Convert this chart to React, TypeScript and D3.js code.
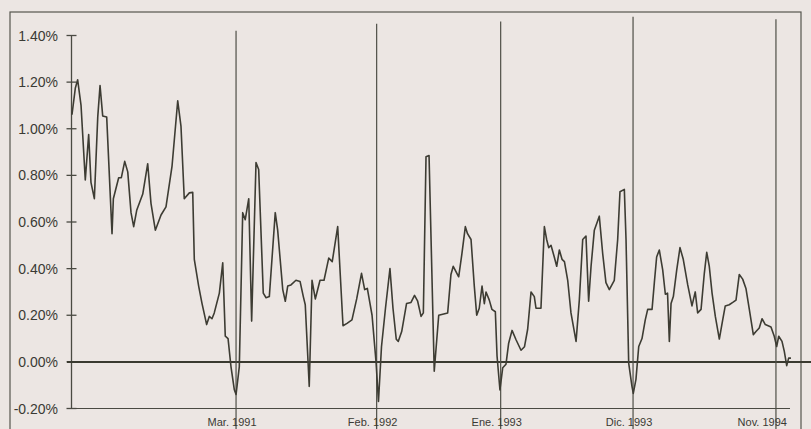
import React from 'react';
import * as d3 from 'd3';

// Weekly rate series: [months since Jan. 1990, rate in %]
const serie: [number, number][] = [
  [0.7, 1.06], [0.98, 1.175], [1.17, 1.21], [1.45, 1.1], [1.8, 0.78], [2.08, 0.975], [2.27, 0.77], [2.55, 0.7],
  [2.83, 1.05], [3.02, 1.185], [3.24, 1.055], [3.57, 1.05], [4.01, 0.55], [4.12, 0.7], [4.56, 0.79], [4.78, 0.79],
  [5.06, 0.86], [5.31, 0.815], [5.58, 0.64], [5.8, 0.58], [6.05, 0.65], [6.55, 0.72], [6.96, 0.85], [7.23, 0.68],
  [7.59, 0.565], [8.06, 0.63], [8.47, 0.665], [8.97, 0.84], [9.44, 1.12], [9.71, 1.01], [9.98, 0.7], [10.4, 0.725],
  [10.68, 0.727], [10.81, 0.44], [11.17, 0.325], [11.45, 0.25], [11.83, 0.16], [12.05, 0.195], [12.27, 0.185], [12.46, 0.21],
  [12.88, 0.295], [13.16, 0.425], [13.37, 0.11], [13.6, 0.1], [13.84, -0.02], [14.12, -0.12], [14.26, -0.14], [14.53, -0.02],
  [14.81, 0.64], [15.02, 0.61], [15.31, 0.7], [15.55, 0.175], [15.69, 0.44], [15.91, 0.855], [16.13, 0.825], [16.51, 0.295],
  [16.74, 0.275], [17.01, 0.28], [17.5, 0.64], [17.7, 0.565], [18.12, 0.31], [18.33, 0.26], [18.53, 0.325], [18.8, 0.33],
  [19.21, 0.35], [19.55, 0.345], [19.82, 0.28], [19.98, 0.245], [20.31, -0.105], [20.54, 0.35], [20.81, 0.27], [21.2, 0.35],
  [21.53, 0.35], [21.92, 0.445], [22.21, 0.43], [22.66, 0.58], [23.1, 0.155], [23.43, 0.165], [23.84, 0.18], [24.23, 0.27],
  [24.63, 0.38], [24.89, 0.31], [25.11, 0.315], [25.5, 0.2], [25.83, 0.0], [26.03, -0.17], [26.28, 0.065], [26.61, 0.23],
  [26.98, 0.4], [27.23, 0.23], [27.5, 0.097], [27.67, 0.088], [27.95, 0.13], [28.35, 0.25], [28.72, 0.255], [29.01, 0.285],
  [29.26, 0.262], [29.55, 0.195], [29.74, 0.21], [29.96, 0.88], [30.21, 0.885], [30.64, -0.04], [31.01, 0.2], [31.75, 0.21],
  [32.02, 0.375], [32.21, 0.41], [32.66, 0.365], [32.93, 0.465], [33.21, 0.58], [33.39, 0.55], [33.68, 0.525], [33.95, 0.325],
  [34.15, 0.2], [34.36, 0.23], [34.59, 0.325], [34.78, 0.25], [34.92, 0.3], [35.19, 0.265], [35.41, 0.225], [35.69, 0.215],
  [35.83, 0.025], [36.07, -0.12], [36.3, -0.025], [36.57, -0.01], [36.79, 0.08], [37.07, 0.135], [37.4, 0.095], [37.81, 0.05],
  [38.1, 0.065], [38.36, 0.14], [38.64, 0.3], [38.91, 0.28], [39.05, 0.23], [39.46, 0.23], [39.74, 0.58], [39.93, 0.525],
  [40.1, 0.49], [40.29, 0.5], [40.56, 0.45], [40.76, 0.41], [40.98, 0.48], [41.2, 0.44], [41.4, 0.43], [41.67, 0.35],
  [41.94, 0.21], [42.36, 0.088], [42.63, 0.265], [42.91, 0.525], [43.18, 0.54], [43.4, 0.26], [43.6, 0.41], [43.87, 0.565],
  [44.28, 0.625], [44.56, 0.465], [44.83, 0.34], [45.11, 0.31], [45.52, 0.35], [45.8, 0.525], [45.99, 0.73], [46.35, 0.74],
  [46.49, 0.525], [46.71, -0.005], [46.98, -0.105], [47.09, -0.135], [47.31, -0.075], [47.54, 0.066], [47.81, 0.1], [48.08, 0.18],
  [48.28, 0.225], [48.64, 0.225], [48.83, 0.34], [49.02, 0.45], [49.24, 0.48], [49.52, 0.395], [49.74, 0.29], [49.92, 0.295],
  [50.07, 0.088], [50.21, 0.25], [50.4, 0.28], [50.68, 0.395], [50.95, 0.49], [51.22, 0.44], [51.59, 0.33], [51.94, 0.24],
  [52.21, 0.3], [52.41, 0.21], [52.69, 0.225], [52.96, 0.38], [53.16, 0.47], [53.37, 0.41], [53.6, 0.295], [53.87, 0.195],
  [54.2, 0.098], [54.48, 0.18], [54.69, 0.24], [55.02, 0.245], [55.31, 0.255], [55.58, 0.265], [55.85, 0.375], [56.13, 0.355],
  [56.4, 0.315], [56.68, 0.225], [57.01, 0.117], [57.23, 0.13], [57.5, 0.145], [57.73, 0.185], [58.0, 0.16], [58.47, 0.15],
  [58.74, 0.11], [58.94, 0.066], [59.11, 0.11], [59.38, 0.088], [59.57, 0.045], [59.77, -0.016], [59.93, 0.016], [60.12, 0.016],
];

// Event markers (months since Jan. 1990), their labels and where each line starts at the top (%)
const eventMonths = [14.26, 25.88, 36.13, 47.07, 58.88];
const eventLabels = ['Mar. 1991', 'Feb. 1992', 'Ene. 1993', 'Dic. 1993', 'Nov. 1994'];
const eventTops = [1.42, 1.45, 1.46, 1.48, 1.47];

const yTicks = [-0.2, 0, 0.2, 0.4, 0.6, 0.8, 1.0, 1.2, 1.4];

const W = 811;
const H = 429;
const ink = '#3d3c33';
const axisColor = '#4a4a42';

export default function App() {
  const x = d3.scaleLinear().domain([0, 60]).range([63.5, 789.5]);
  const y = d3.scaleLinear().domain([-0.2, 1.4]).range([408.5, 35.5]);
  const axisX = 71.5;

  const line = d3.line<[number, number]>()
    .x(d => x(d[0]))
    .y(d => y(d[1]));

  const font = 'Arial, "Liberation Sans", Helvetica, sans-serif';

  return (
    <svg
      width={W}
      height={H}
      style={{ position: 'absolute', left: 0, top: 0, background: '#ece6e3' }}
    >
      <rect x={0} y={0} width={W} height={H} fill="#ece6e3" />
      {/* outer frame */}
      <rect x={10} y={12} width={791} height={H + 20} fill="none" stroke="#56564e" strokeWidth={1.2} />

      {/* y axis */}
      <line x1={axisX} x2={axisX} y1={y(1.4)} y2={y(-0.2)} stroke={axisColor} strokeWidth={1.3} />
      {yTicks.map(t => (
        <g key={t}>
          <line x1={axisX - 5} x2={axisX + 5} y1={y(t)} y2={y(t)} stroke={axisColor} strokeWidth={1.3} />
          <text
            x={58}
            y={y(t) + 5}
            textAnchor="end"
            fontFamily={font}
            fontSize={14}
            fill="#3a3a34"
          >
            {t.toFixed(2) + '%'}
          </text>
        </g>
      ))}

      {/* bottom axis */}
      <line x1={67} x2={790} y1={y(-0.2)} y2={y(-0.2)} stroke={axisColor} strokeWidth={1.2} />
      {/* zero line */}
      <line x1={67} x2={W} y1={y(0)} y2={y(0)} stroke="#3a3a30" strokeWidth={2} />

      {/* event markers */}
      {eventMonths.map((m, i) => (
        <g key={eventLabels[i]}>
          <line x1={x(m)} x2={x(m)} y1={y(eventTops[i])} y2={H} stroke="#4f4f47" strokeWidth={1.2} />
          <text
            x={i === eventMonths.length - 1 ? x(m) + 11 : x(m) - 4}
            y={426}
            textAnchor={i === eventMonths.length - 1 ? 'end' : 'middle'}
            fontFamily={font}
            fontSize={11}
            fill="#3a3a34"
          >
            {eventLabels[i]}
          </text>
        </g>
      ))}

      {/* series */}
      <path d={line(serie) || ''} fill="none" stroke={ink} strokeWidth={1.6} strokeLinejoin="round" />
    </svg>
  );
}
